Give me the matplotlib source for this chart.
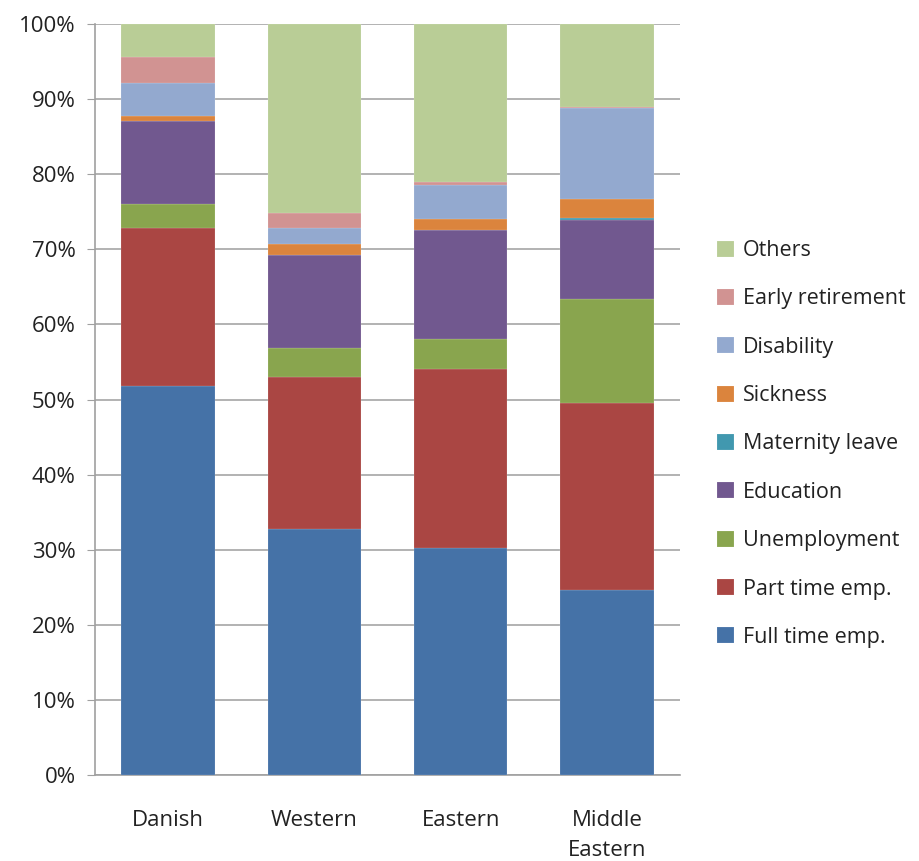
import numpy as np
import matplotlib.pyplot as plt

plt.rcParams['font.family'] = ['Open Sans', 'DejaVu Sans']

groups = ['Danish', 'Western', 'Eastern', 'Middle\nEastern']
series = ['Full time emp.', 'Part time emp.', 'Unemployment', 'Education',
          'Maternity leave', 'Sickness', 'Disability', 'Early retirement', 'Others']

full_time = [51.8, 32.8, 30.2, 24.6]
part_time = [21.0, 20.2, 23.8, 25.0]
unemployment = [3.2, 3.9, 4.1, 13.8]
education = [11.1, 12.3, 14.5, 10.5]
maternity = [0.0, 0.0, 0.0, 0.3]
sickness = [0.6, 1.5, 1.4, 2.5]
disability = [4.5, 2.2, 4.6, 12.1]
early_retirement = [3.4, 1.9, 0.4, 0.2]
others = [4.4, 25.2, 21.0, 11.0]

values = [full_time, part_time, unemployment, education, maternity,
          sickness, disability, early_retirement, others]
colors = ['#4572A7', '#AA4643', '#89A54E', '#71588F', '#4198AF',
          '#DB843D', '#93A9CF', '#D19392', '#B9CD96']

fig = plt.figure(figsize=(9.2, 8.61), dpi=100)
ax = fig.add_axes([95/920, 1 - 775/861, 585/920, 751/861])

x = np.arange(len(groups))
bottom = np.zeros(len(groups))
handles = []
for name, vals, col in zip(series, values, colors):
    b = ax.bar(x, vals, 0.64, bottom=bottom, color=col, label=name,
               edgecolor='#ffffff80', linewidth=0.2, zorder=3)
    handles.append(b)
    bottom += np.array(vals)

ax.set_xlim(-0.5, 3.5)
ax.set_ylim(0, 100)
ax.set_yticks(np.arange(0, 101, 10))
ax.set_yticklabels([f'{v}%' for v in range(0, 101, 10)], fontsize=16, color='#222222')
ax.set_xticks(x)
ax.set_xticklabels(groups, fontsize=16, color='#222222', linespacing=1.6)
ax.tick_params(axis='x', length=0, pad=25)
ax.tick_params(axis='y', length=6, color='#A0A0A0', pad=8)
ax.grid(axis='y', color='#A6A6A6', linewidth=1.2, zorder=0)
for s in ['top', 'right']:
    ax.spines[s].set_visible(False)
for s in ['left', 'bottom']:
    ax.spines[s].set_color('#A0A0A0')
    ax.spines[s].set_linewidth(1.2)

leg = fig.legend(handles[::-1], series[::-1], loc='center left',
                 bbox_to_anchor=(698/920, 1 - 444/861), frameon=False,
                 fontsize=15.5, handlelength=0.75, handleheight=0.75,
                 labelspacing=1.27, handletextpad=0.45)
for t in leg.get_texts():
    t.set_color('#222222')

fig.savefig('out.png', dpi=100)
